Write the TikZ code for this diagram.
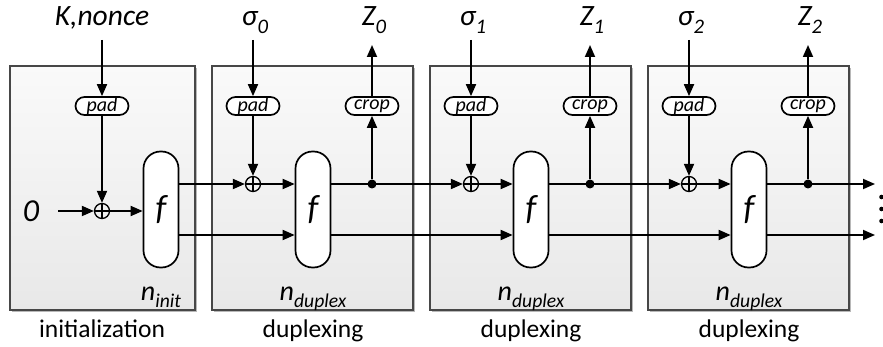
\documentclass[tikz,border=0pt]{standalone}
\usepackage{fontspec}
\usepackage{graphicx}
\setmainfont{Carlito}
\usetikzlibrary{arrows.meta,calc}
\newcommand{\mysub}[1]{\raisebox{-0.26em}{\scalebox{0.7}{#1}}}
\begin{document}
\begin{tikzpicture}[x=1pt,y=-1pt,
  stage/.style={draw=black!72,line width=1.1pt,top color=black!2,bottom color=black!9},
  shade/.style={fill=black!28,draw=none},
  fbox/.style={draw,line width=1.7pt,fill=white,rounded corners=17pt,minimum width=35pt,minimum height=116pt,inner sep=0pt,font=\fontsize{35}{38}\selectfont\itshape},
  padbox/.style={draw,line width=1.7pt,fill=white,rounded corners=9pt,minimum width=53pt,minimum height=18pt,inner sep=0pt,font=\fontsize{20}{20}\selectfont\itshape},
  xor/.style={draw,circle,line width=1.3pt,minimum size=15pt,inner sep=0pt},
  dotn/.style={fill,circle,minimum size=9pt,inner sep=0pt},
  big/.style={anchor=base,inner sep=0pt,font=\fontsize{29.5}{32}\selectfont\itshape},
  nlab/.style={anchor=base,inner sep=0pt,font=\fontsize{28}{30}\selectfont\itshape},
  stagelab/.style={anchor=base,inner sep=0pt,font=\fontsize{25.5}{28}\selectfont},
  arr/.style={-{Triangle[length=12pt,width=10pt]},line width=1.8pt}]
\useasboundingbox (0,0) rectangle (883,347);
\coordinate (lo) at (0,235);
% initialization box
\fill[shade] (12,68) rectangle (197,312);
\draw[stage] (10,66) rectangle (195,310);
\node[padbox] (pI) at (102,106) {pad};
\node[xor] (xI) at (102,211) {};
\draw[line width=1.3pt] (xI.north) -- (xI.south) (xI.west) -- (xI.east);
\node[fbox] (fI) at (161,209.5) {f};
\node[big] (kn) at (102,26) {K,nonce};
\coordinate (kin) at (102,40);
\draw[arr] (kin) -- (pI.north);
\draw[arr] (pI.south) -- (xI.north);
\node[big,font=\fontsize{32}{32}\selectfont\itshape] (zero) at (31,222) {0};
\coordinate (zin) at (58,211);
\draw[arr] (zin) -- (xI.west);
\draw[arr] (xI.east) -- (fI.west |- xI);
\node[nlab] (nI) at (161,300) {n\mysub{init}};
\node[stagelab] (lI) at (102,337) {initialization};
% duplexing boxes
\foreach \i/\p in {0/I,1/0,2/1} {
  \pgfmathsetmacro{\L}{212+218*\i}
  \fill[shade] (\L+2,68) rectangle (\L+203,312);
  \draw[stage] (\L,66) rectangle (\L+201,310);
  \node[padbox] (p\i) at (\L+41,106) {pad};
  \node[padbox] (c\i) at (\L+160,106) {crop};
  \node[xor] (x\i) at (\L+41,184) {};
  \draw[line width=1.3pt] (x\i.north) -- (x\i.south) (x\i.west) -- (x\i.east);
  \node[fbox] (f\i) at (\L+101,209.5) {f};
  \node[dotn] (d\i) at (\L+160,184) {};
  \node[big] (s\i) at (\L+43,26) {σ\mysub{\i}};
  \node[big] (z\i) at (\L+162,26) {Z\mysub{\i}};
  \coordinate (si\i) at (\L+41,40);
  \coordinate (zo\i) at (\L+160,45);
  \draw[arr] (si\i) -- (p\i.north);
  \draw[arr] (p\i.south) -- (x\i.north);
  \draw[arr] (x\i.east) -- (f\i.west |- x\i);
  \draw[arr] (d\i) -- (c\i.south);
  \draw[arr] (c\i.north) -- (zo\i);
  \draw[arr] (f\p.east |- x\i) -- (x\i.west);
  \draw[arr] (f\p.east |- lo) -- (f\i.west |- lo);
  \node[nlab] (n\i) at (\L+101,300) {n\mysub{duplex}};
  \node[stagelab] (l\i) at (\L+101,337) {duplexing};
}
\coordinate (e1) at (875,184);
\coordinate (e2) at (875,235);
\draw[arr] (f2.east |- x2) -- (e1);
\draw[arr] (f2.east |- lo) -- (e2);
\foreach \yy in {197,209,221} \fill (881.5,\yy) circle (2.3pt);
\end{tikzpicture}
\end{document}
